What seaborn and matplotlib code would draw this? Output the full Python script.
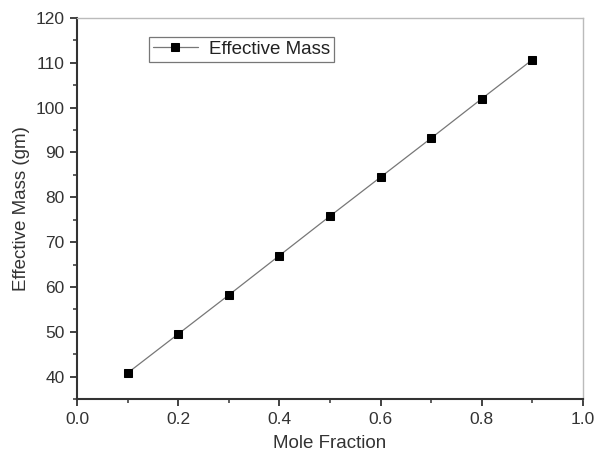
import matplotlib
matplotlib.use("Agg")
import matplotlib.pyplot as plt
import seaborn as sns
import pandas as pd
from matplotlib.ticker import MultipleLocator

mole_fraction = [0.1, 0.2, 0.3, 0.4, 0.5, 0.6, 0.7, 0.8, 0.9]
effective_mass = [40.8, 49.5, 58.2, 67.0, 75.8, 84.5, 93.2, 102.0, 110.7]
series_label = "Effective Mass"

df = pd.DataFrame({"x": mole_fraction, "y": effective_mass})

sns.set_style("white")
plt.rcParams['font.family'] = ['Liberation Sans', 'DejaVu Sans']

fig = plt.figure(figsize=(5.94, 4.54), dpi=100)
ax = fig.add_axes([77/594, 55/454, (583-77)/594, (399-18)/454])

sns.lineplot(data=df, x="x", y="y", ax=ax, color="#777777", linewidth=0.9,
             marker="s", markersize=5.2, markerfacecolor="black",
             markeredgecolor="black", label=series_label)

ax.set_xlim(0, 1.0)
ax.set_ylim(35, 120)
ax.xaxis.set_major_locator(MultipleLocator(0.2))
ax.xaxis.set_minor_locator(MultipleLocator(0.1))
ax.yaxis.set_major_locator(MultipleLocator(10))
ax.yaxis.set_minor_locator(MultipleLocator(5))
ax.set_xticks([0.0, 0.2, 0.4, 0.6, 0.8, 1.0])
ax.set_xticklabels(["0.0", "0.2", "0.4", "0.6", "0.8", "1.0"])

ax.tick_params(axis="both", which="major", direction="out", length=5, width=1.3,
               color="#333333", labelsize=12.5, labelcolor="#333333", pad=4,
               bottom=True, left=True)
ax.tick_params(axis="both", which="minor", direction="out", length=3, width=1.1,
               color="#333333", bottom=True, left=True)

for side in ["left", "bottom"]:
    ax.spines[side].set_color("#333333")
    ax.spines[side].set_linewidth(1.5)
for side in ["top", "right"]:
    ax.spines[side].set_color("#bbbbbb")
    ax.spines[side].set_linewidth(1.0)

ax.set_xlabel("Mole Fraction", fontsize=13.5, color="#333333", labelpad=6)
ax.set_ylabel("Effective Mass (gm)", fontsize=13.5, color="#333333", labelpad=4)

leg = ax.legend(loc="upper left", bbox_to_anchor=(0.142, 0.95), fontsize=13.5,
                frameon=True, fancybox=False, handlelength=2.4,
                borderpad=0.2, handletextpad=0.6, borderaxespad=0)
leg.get_frame().set_edgecolor("#555555")
leg.get_frame().set_linewidth(0.9)
for t in leg.get_texts():
    t.set_color("#222222")

fig.savefig("out.png", dpi=100)
